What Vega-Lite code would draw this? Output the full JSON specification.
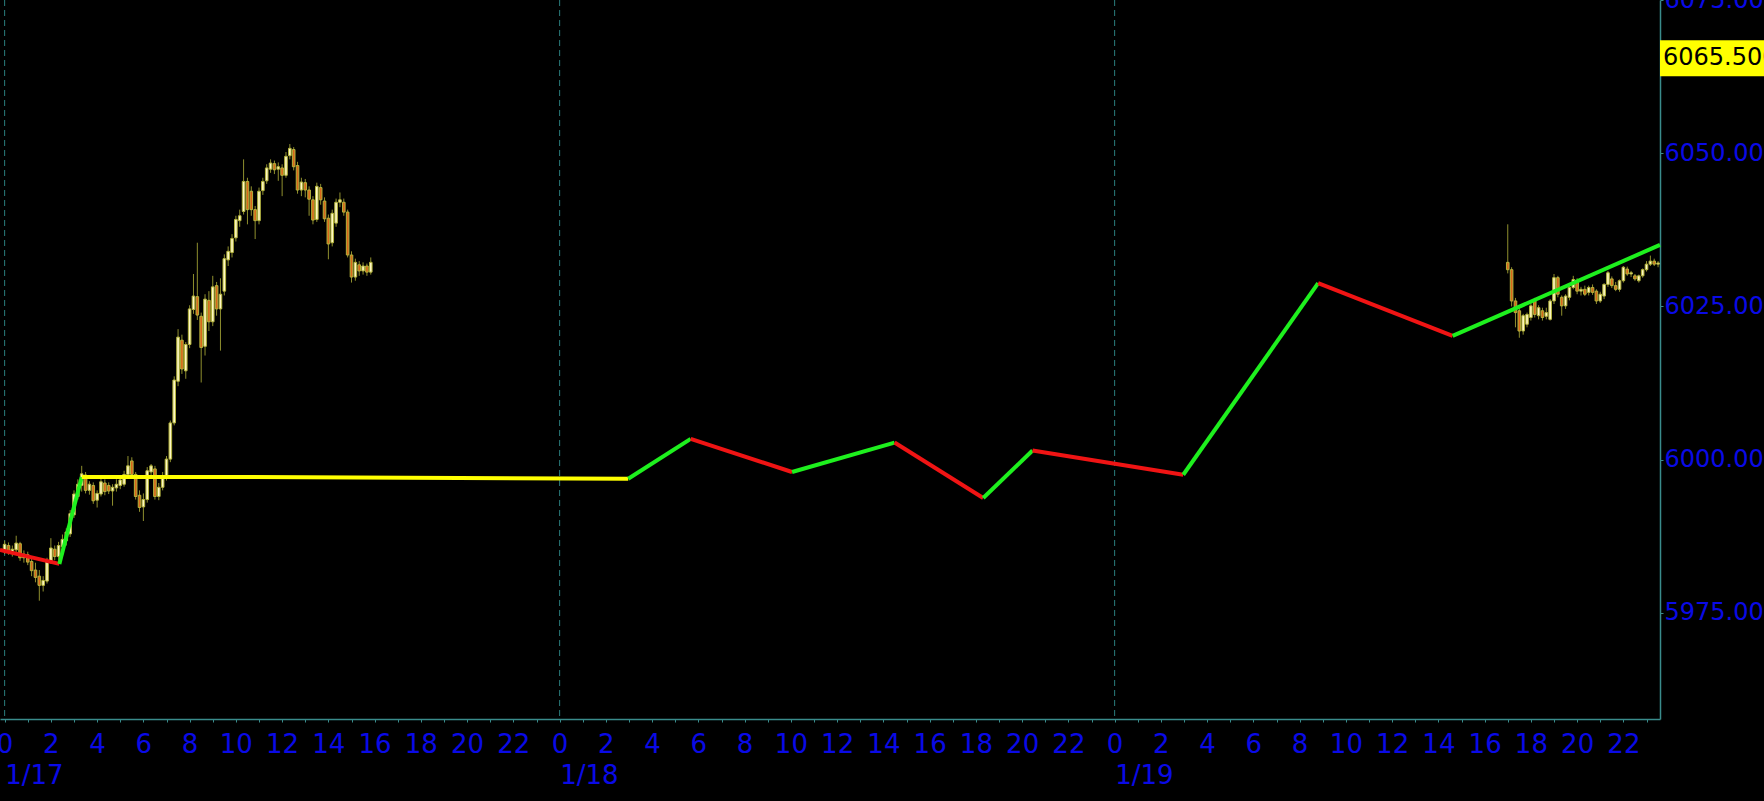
{
  "width": 1660,
  "height": 719,
  "autosize": {"type": "none"},
  "padding": {"left": 0, "top": 0, "right": 104, "bottom": 82},
  "background": "#000000",
  "config": {"view": {"stroke": null}},
  "datasets": {
    "candles": [
      {"t":"2025-01-17T00:00:00Z","o":5985.0,"h":5986.8,"l":5984.6,"c":5986.2},
      {"t":"2025-01-17T00:10:00Z","o":5986.0,"h":5986.5,"l":5984.5,"c":5985.0},
      {"t":"2025-01-17T00:20:00Z","o":5985.0,"h":5986.0,"l":5984.2,"c":5985.4},
      {"t":"2025-01-17T00:30:00Z","o":5985.3,"h":5987.6,"l":5984.9,"c":5986.4},
      {"t":"2025-01-17T00:40:00Z","o":5986.3,"h":5986.6,"l":5983.5,"c":5984.0},
      {"t":"2025-01-17T00:50:00Z","o":5984.0,"h":5985.2,"l":5983.2,"c":5984.6},
      {"t":"2025-01-17T01:00:00Z","o":5984.5,"h":5985.0,"l":5982.8,"c":5983.3},
      {"t":"2025-01-17T01:10:00Z","o":5983.4,"h":5984.0,"l":5981.0,"c":5981.9},
      {"t":"2025-01-17T01:20:00Z","o":5982.0,"h":5983.2,"l":5980.0,"c":5980.8},
      {"t":"2025-01-17T01:30:00Z","o":5981.0,"h":5982.0,"l":5977.0,"c":5979.5},
      {"t":"2025-01-17T01:40:00Z","o":5979.5,"h":5981.0,"l":5978.5,"c":5980.3},
      {"t":"2025-01-17T01:50:00Z","o":5980.2,"h":5984.0,"l":5979.8,"c":5983.5},
      {"t":"2025-01-17T02:00:00Z","o":5983.5,"h":5987.2,"l":5983.0,"c":5985.6},
      {"t":"2025-01-17T02:10:00Z","o":5985.4,"h":5986.0,"l":5983.6,"c":5984.2},
      {"t":"2025-01-17T02:20:00Z","o":5984.2,"h":5986.6,"l":5983.5,"c":5986.0},
      {"t":"2025-01-17T02:30:00Z","o":5985.8,"h":5987.8,"l":5985.0,"c":5987.0},
      {"t":"2025-01-17T02:40:00Z","o":5986.8,"h":5988.8,"l":5986.0,"c":5988.2},
      {"t":"2025-01-17T02:50:00Z","o":5987.9,"h":5991.8,"l":5987.4,"c":5991.2},
      {"t":"2025-01-17T03:00:00Z","o":5991.0,"h":5995.0,"l":5990.5,"c":5994.4},
      {"t":"2025-01-17T03:10:00Z","o":5994.0,"h":5996.8,"l":5993.5,"c":5996.0},
      {"t":"2025-01-17T03:20:00Z","o":5995.8,"h":5999.0,"l":5994.8,"c":5997.7},
      {"t":"2025-01-17T03:30:00Z","o":5997.5,"h":5998.0,"l":5994.5,"c":5995.0},
      {"t":"2025-01-17T03:40:00Z","o":5995.0,"h":5996.5,"l":5994.3,"c":5996.0},
      {"t":"2025-01-17T03:50:00Z","o":5995.8,"h":5996.3,"l":5992.8,"c":5993.3},
      {"t":"2025-01-17T04:00:00Z","o":5993.4,"h":5995.0,"l":5992.2,"c":5994.5},
      {"t":"2025-01-17T04:10:00Z","o":5994.4,"h":5997.0,"l":5994.0,"c":5996.4},
      {"t":"2025-01-17T04:20:00Z","o":5996.2,"h":5996.8,"l":5994.2,"c":5994.8},
      {"t":"2025-01-17T04:30:00Z","o":5995.8,"h":5996.3,"l":5994.4,"c":5994.9},
      {"t":"2025-01-17T04:40:00Z","o":5994.9,"h":5996.0,"l":5992.5,"c":5995.5},
      {"t":"2025-01-17T04:50:00Z","o":5995.4,"h":5996.8,"l":5994.8,"c":5996.0},
      {"t":"2025-01-17T05:00:00Z","o":5995.8,"h":5997.2,"l":5995.2,"c":5996.7},
      {"t":"2025-01-17T05:10:00Z","o":5996.0,"h":5998.2,"l":5995.6,"c":5997.6},
      {"t":"2025-01-17T05:20:00Z","o":5997.6,"h":6000.6,"l":5997.0,"c":5999.0},
      {"t":"2025-01-17T05:30:00Z","o":5999.8,"h":6000.4,"l":5997.0,"c":5997.6},
      {"t":"2025-01-17T05:40:00Z","o":5997.6,"h":5998.0,"l":5993.5,"c":5994.0},
      {"t":"2025-01-17T05:50:00Z","o":5994.2,"h":5995.0,"l":5991.5,"c":5992.2},
      {"t":"2025-01-17T06:00:00Z","o":5992.3,"h":5994.5,"l":5990.0,"c":5993.5},
      {"t":"2025-01-17T06:10:00Z","o":5993.5,"h":5998.8,"l":5993.0,"c":5998.2},
      {"t":"2025-01-17T06:20:00Z","o":5998.0,"h":5999.3,"l":5997.3,"c":5999.0},
      {"t":"2025-01-17T06:30:00Z","o":5998.5,"h":5999.0,"l":5993.5,"c":5994.0},
      {"t":"2025-01-17T06:40:00Z","o":5994.0,"h":5996.2,"l":5993.4,"c":5995.5},
      {"t":"2025-01-17T06:50:00Z","o":5995.5,"h":5998.0,"l":5995.0,"c":5997.0},
      {"t":"2025-01-17T07:00:00Z","o":5997.0,"h":6000.6,"l":5996.6,"c":6000.1},
      {"t":"2025-01-17T07:10:00Z","o":6000.1,"h":6006.4,"l":5999.6,"c":6006.0},
      {"t":"2025-01-17T07:20:00Z","o":6006.0,"h":6013.6,"l":6005.6,"c":6013.0},
      {"t":"2025-01-17T07:30:00Z","o":6012.8,"h":6021.3,"l":6012.0,"c":6020.0},
      {"t":"2025-01-17T07:40:00Z","o":6019.5,"h":6020.4,"l":6014.0,"c":6014.8},
      {"t":"2025-01-17T07:50:00Z","o":6014.5,"h":6019.2,"l":6013.2,"c":6018.8},
      {"t":"2025-01-17T08:00:00Z","o":6018.8,"h":6025.2,"l":6018.2,"c":6024.6},
      {"t":"2025-01-17T08:10:00Z","o":6024.5,"h":6030.3,"l":6023.8,"c":6026.7},
      {"t":"2025-01-17T08:20:00Z","o":6026.6,"h":6035.4,"l":6022.8,"c":6023.6},
      {"t":"2025-01-17T08:30:00Z","o":6023.4,"h":6024.0,"l":6012.6,"c":6018.3},
      {"t":"2025-01-17T08:40:00Z","o":6018.5,"h":6027.0,"l":6017.0,"c":6026.2},
      {"t":"2025-01-17T08:50:00Z","o":6026.0,"h":6027.5,"l":6021.0,"c":6022.5},
      {"t":"2025-01-17T09:00:00Z","o":6022.5,"h":6030.0,"l":6021.8,"c":6028.2},
      {"t":"2025-01-17T09:10:00Z","o":6028.4,"h":6029.0,"l":6023.5,"c":6024.6},
      {"t":"2025-01-17T09:20:00Z","o":6024.6,"h":6029.6,"l":6017.8,"c":6027.0},
      {"t":"2025-01-17T09:30:00Z","o":6027.5,"h":6033.5,"l":6026.8,"c":6032.8},
      {"t":"2025-01-17T09:40:00Z","o":6032.6,"h":6034.8,"l":6031.6,"c":6034.0},
      {"t":"2025-01-17T09:50:00Z","o":6033.8,"h":6036.8,"l":6033.0,"c":6036.1},
      {"t":"2025-01-17T10:00:00Z","o":6036.2,"h":6039.8,"l":6035.6,"c":6039.2},
      {"t":"2025-01-17T10:10:00Z","o":6039.0,"h":6040.8,"l":6038.0,"c":6039.8},
      {"t":"2025-01-17T10:20:00Z","o":6040.5,"h":6049.0,"l":6040.0,"c":6045.4},
      {"t":"2025-01-17T10:30:00Z","o":6045.4,"h":6046.0,"l":6038.4,"c":6040.8},
      {"t":"2025-01-17T10:40:00Z","o":6043.8,"h":6044.6,"l":6039.8,"c":6040.8},
      {"t":"2025-01-17T10:50:00Z","o":6040.8,"h":6041.4,"l":6036.0,"c":6039.0},
      {"t":"2025-01-17T11:00:00Z","o":6039.0,"h":6044.4,"l":6038.4,"c":6043.8},
      {"t":"2025-01-17T11:10:00Z","o":6043.9,"h":6046.0,"l":6043.2,"c":6045.4},
      {"t":"2025-01-17T11:20:00Z","o":6045.5,"h":6048.2,"l":6045.0,"c":6047.6},
      {"t":"2025-01-17T11:30:00Z","o":6047.4,"h":6049.0,"l":6046.8,"c":6048.4},
      {"t":"2025-01-17T11:40:00Z","o":6048.3,"h":6048.8,"l":6046.6,"c":6047.3},
      {"t":"2025-01-17T11:50:00Z","o":6047.4,"h":6048.5,"l":6045.5,"c":6047.8},
      {"t":"2025-01-17T12:00:00Z","o":6047.6,"h":6048.2,"l":6043.0,"c":6046.4},
      {"t":"2025-01-17T12:10:00Z","o":6046.4,"h":6050.2,"l":6046.0,"c":6049.5},
      {"t":"2025-01-17T12:20:00Z","o":6049.6,"h":6051.5,"l":6049.0,"c":6050.8},
      {"t":"2025-01-17T12:30:00Z","o":6050.6,"h":6051.0,"l":6047.2,"c":6047.8},
      {"t":"2025-01-17T12:40:00Z","o":6048.0,"h":6048.6,"l":6043.4,"c":6044.0},
      {"t":"2025-01-17T12:50:00Z","o":6044.0,"h":6046.0,"l":6043.0,"c":6045.3},
      {"t":"2025-01-17T13:00:00Z","o":6045.2,"h":6045.8,"l":6042.8,"c":6044.0},
      {"t":"2025-01-17T13:10:00Z","o":6044.0,"h":6044.6,"l":6039.8,"c":6042.5},
      {"t":"2025-01-17T13:20:00Z","o":6042.4,"h":6043.0,"l":6038.4,"c":6039.1},
      {"t":"2025-01-17T13:30:00Z","o":6039.2,"h":6045.2,"l":6038.8,"c":6044.6},
      {"t":"2025-01-17T13:40:00Z","o":6044.4,"h":6045.0,"l":6041.6,"c":6042.4},
      {"t":"2025-01-17T13:50:00Z","o":6042.2,"h":6042.8,"l":6038.8,"c":6039.3},
      {"t":"2025-01-17T14:00:00Z","o":6039.4,"h":6040.0,"l":6032.7,"c":6035.2},
      {"t":"2025-01-17T14:10:00Z","o":6035.4,"h":6040.8,"l":6034.8,"c":6040.2},
      {"t":"2025-01-17T14:20:00Z","o":6038.6,"h":6042.6,"l":6038.0,"c":6042.0},
      {"t":"2025-01-17T14:30:00Z","o":6042.0,"h":6043.6,"l":6041.2,"c":6042.4},
      {"t":"2025-01-17T14:40:00Z","o":6042.0,"h":6042.6,"l":6039.8,"c":6040.4},
      {"t":"2025-01-17T14:50:00Z","o":6040.4,"h":6040.8,"l":6033.0,"c":6033.4},
      {"t":"2025-01-17T15:00:00Z","o":6033.4,"h":6034.0,"l":6028.9,"c":6029.8},
      {"t":"2025-01-17T15:10:00Z","o":6029.8,"h":6032.8,"l":6029.2,"c":6032.2},
      {"t":"2025-01-17T15:20:00Z","o":6031.8,"h":6032.4,"l":6030.0,"c":6030.8},
      {"t":"2025-01-17T15:30:00Z","o":6030.8,"h":6032.2,"l":6030.2,"c":6031.6},
      {"t":"2025-01-17T15:40:00Z","o":6031.6,"h":6032.0,"l":6030.0,"c":6030.6},
      {"t":"2025-01-17T15:50:00Z","o":6030.6,"h":6033.0,"l":6030.2,"c":6032.2},
      {"t":"2025-01-19T17:00:00Z","o":6032.2,"h":6038.4,"l":6030.4,"c":6031.0},
      {"t":"2025-01-19T17:10:00Z","o":6031.0,"h":6031.4,"l":6025.0,"c":6025.9},
      {"t":"2025-01-19T17:20:00Z","o":6025.9,"h":6026.4,"l":6021.6,"c":6024.0},
      {"t":"2025-01-19T17:30:00Z","o":6024.3,"h":6024.8,"l":6019.9,"c":6021.0},
      {"t":"2025-01-19T17:40:00Z","o":6021.0,"h":6023.8,"l":6020.4,"c":6023.5},
      {"t":"2025-01-19T17:50:00Z","o":6022.1,"h":6024.0,"l":6021.6,"c":6023.7},
      {"t":"2025-01-19T18:00:00Z","o":6023.2,"h":6025.6,"l":6022.7,"c":6025.1},
      {"t":"2025-01-19T18:10:00Z","o":6025.9,"h":6026.4,"l":6023.2,"c":6023.7},
      {"t":"2025-01-19T18:20:00Z","o":6023.5,"h":6025.2,"l":6022.9,"c":6024.8},
      {"t":"2025-01-19T18:30:00Z","o":6024.3,"h":6024.8,"l":6022.7,"c":6023.2},
      {"t":"2025-01-19T18:40:00Z","o":6023.4,"h":6024.8,"l":6022.9,"c":6024.0},
      {"t":"2025-01-19T18:50:00Z","o":6022.9,"h":6026.2,"l":6022.7,"c":6025.9},
      {"t":"2025-01-19T19:00:00Z","o":6025.9,"h":6030.3,"l":6025.4,"c":6029.7},
      {"t":"2025-01-19T19:10:00Z","o":6029.7,"h":6030.0,"l":6026.5,"c":6027.0},
      {"t":"2025-01-19T19:20:00Z","o":6026.5,"h":6026.8,"l":6023.5,"c":6025.1},
      {"t":"2025-01-19T19:30:00Z","o":6025.1,"h":6027.0,"l":6024.6,"c":6026.7},
      {"t":"2025-01-19T19:40:00Z","o":6026.5,"h":6028.4,"l":6026.0,"c":6028.1},
      {"t":"2025-01-19T19:50:00Z","o":6028.1,"h":6030.0,"l":6027.8,"c":6029.4},
      {"t":"2025-01-19T20:00:00Z","o":6029.2,"h":6029.6,"l":6027.0,"c":6027.5},
      {"t":"2025-01-19T20:10:00Z","o":6027.5,"h":6028.2,"l":6026.8,"c":6027.8},
      {"t":"2025-01-19T20:20:00Z","o":6027.8,"h":6028.4,"l":6026.7,"c":6027.0},
      {"t":"2025-01-19T20:30:00Z","o":6027.3,"h":6028.4,"l":6026.8,"c":6028.1},
      {"t":"2025-01-19T20:40:00Z","o":6028.1,"h":6028.6,"l":6026.9,"c":6027.3},
      {"t":"2025-01-19T20:50:00Z","o":6027.5,"h":6027.8,"l":6025.4,"c":6025.9},
      {"t":"2025-01-19T21:00:00Z","o":6025.9,"h":6027.4,"l":6025.6,"c":6027.0},
      {"t":"2025-01-19T21:10:00Z","o":6026.7,"h":6028.8,"l":6026.2,"c":6028.6},
      {"t":"2025-01-19T21:20:00Z","o":6028.6,"h":6030.8,"l":6028.2,"c":6030.5},
      {"t":"2025-01-19T21:30:00Z","o":6029.5,"h":6029.9,"l":6028.0,"c":6028.4},
      {"t":"2025-01-19T21:40:00Z","o":6028.4,"h":6029.0,"l":6027.5,"c":6027.8},
      {"t":"2025-01-19T21:50:00Z","o":6027.8,"h":6029.4,"l":6027.4,"c":6029.2},
      {"t":"2025-01-19T22:00:00Z","o":6029.2,"h":6031.6,"l":6028.9,"c":6031.4},
      {"t":"2025-01-19T22:10:00Z","o":6031.1,"h":6031.5,"l":6030.0,"c":6030.3},
      {"t":"2025-01-19T22:20:00Z","o":6030.3,"h":6030.8,"l":6029.8,"c":6030.5},
      {"t":"2025-01-19T22:30:00Z","o":6030.0,"h":6030.3,"l":6029.2,"c":6029.5},
      {"t":"2025-01-19T22:40:00Z","o":6029.2,"h":6030.2,"l":6028.9,"c":6030.0},
      {"t":"2025-01-19T22:50:00Z","o":6030.0,"h":6031.2,"l":6029.7,"c":6031.0},
      {"t":"2025-01-19T23:00:00Z","o":6031.0,"h":6032.4,"l":6030.7,"c":6031.9},
      {"t":"2025-01-19T23:10:00Z","o":6031.9,"h":6033.3,"l":6031.6,"c":6032.4},
      {"t":"2025-01-19T23:20:00Z","o":6032.4,"h":6032.8,"l":6031.6,"c":6031.9},
      {"t":"2025-01-19T23:30:00Z","o":6031.9,"h":6032.4,"l":6031.4,"c":6032.1}
    ],
    "zigzag": [
      {"seg":1,"dir":"down","t":"2025-01-16T23:48:00Z","v":5985.3},
      {"seg":1,"dir":"down","t":"2025-01-17T02:22:00Z","v":5983.0},
      {"seg":2,"dir":"up","t":"2025-01-17T02:22:00Z","v":5983.0},
      {"seg":2,"dir":"up","t":"2025-01-17T03:20:00Z","v":5997.2},
      {"seg":3,"dir":"flat","t":"2025-01-17T03:20:00Z","v":5997.2},
      {"seg":3,"dir":"flat","t":"2025-01-17T08:57:00Z","v":5997.2},
      {"seg":3,"dir":"flat","t":"2025-01-18T02:58:00Z","v":5996.9},
      {"seg":4,"dir":"up","t":"2025-01-18T02:58:00Z","v":5996.9},
      {"seg":4,"dir":"up","t":"2025-01-18T05:40:00Z","v":6003.4},
      {"seg":5,"dir":"down","t":"2025-01-18T05:40:00Z","v":6003.4},
      {"seg":5,"dir":"down","t":"2025-01-18T10:03:00Z","v":5998.0},
      {"seg":6,"dir":"up","t":"2025-01-18T10:03:00Z","v":5998.0},
      {"seg":6,"dir":"up","t":"2025-01-18T14:29:00Z","v":6002.8},
      {"seg":7,"dir":"down","t":"2025-01-18T14:29:00Z","v":6002.8},
      {"seg":7,"dir":"down","t":"2025-01-18T18:19:00Z","v":5993.75},
      {"seg":8,"dir":"up","t":"2025-01-18T18:19:00Z","v":5993.75},
      {"seg":8,"dir":"up","t":"2025-01-18T20:27:00Z","v":6001.5},
      {"seg":9,"dir":"down","t":"2025-01-18T20:27:00Z","v":6001.5},
      {"seg":9,"dir":"down","t":"2025-01-19T02:58:00Z","v":5997.55},
      {"seg":10,"dir":"up","t":"2025-01-19T02:58:00Z","v":5997.55},
      {"seg":10,"dir":"up","t":"2025-01-19T08:48:00Z","v":6028.8},
      {"seg":11,"dir":"down","t":"2025-01-19T08:48:00Z","v":6028.8},
      {"seg":11,"dir":"down","t":"2025-01-19T14:37:00Z","v":6020.2},
      {"seg":12,"dir":"up","t":"2025-01-19T14:37:00Z","v":6020.2},
      {"seg":12,"dir":"up","t":"2025-01-19T23:35:00Z","v":6035.05}
    ],
    "days": [
      {"day":"2025-01-17T00:00:00Z"},
      {"day":"2025-01-18T00:00:00Z"},
      {"day":"2025-01-19T00:00:00Z"}
    ],
    "last": [{"price": 6065.5, "label": "6065.500", "from": "2025-01-19T23:35:00Z", "to": "2025-01-20T08:00:00Z"}]
  },
  "resolve": {"axis": {"x": "independent"}},
  "layer": [
    {
      "data": {"name": "days"},
      "mark": {"type": "rule", "color": "#2a7d7d", "strokeWidth": 1, "strokeDash": [6, 4]},
      "encoding": {
        "x": {
          "field": "day", "type": "temporal",
          "scale": {"type": "utc", "padding": 0, "nice": false, "domain": [
            {"year": 2025, "month": 1, "date": 16, "hours": 23, "minutes": 48, "utc": true},
            {"year": 2025, "month": 1, "date": 19, "hours": 23, "minutes": 35, "utc": true}
          ]},
          "axis": {
            "orient": "bottom", "title": null,
            "values": [
              {"year": 2025, "month": 1, "date": 17, "utc": true},
              {"year": 2025, "month": 1, "date": 18, "utc": true},
              {"year": 2025, "month": 1, "date": 19, "utc": true}
            ],
            "labelExpr": "utcFormat(datum.value, '%-m/%-d')",
            "labelAlign": "left", "labelFlush": false, "labelOverlap": false,
            "ticks": false, "tickSize": 0, "domain": false, "grid": false,
            "labelColor": "#0a0ae6", "labelFont": "DejaVu Sans", "labelFontSize": 26,
            "labelPadding": 43, "labelDx": 1
          }
        }
      }
    },
    {
      "data": {"name": "candles"},
      "mark": {"type": "rule", "color": "#8f8f2e", "strokeWidth": 1},
      "encoding": {
        "x": {
          "field": "t", "type": "temporal",
          "axis": {
            "orient": "bottom", "title": null,
            "tickCount": 72,
            "labelExpr": "utchours(datum.value) % 2 == 0 ? '' + utchours(datum.value) : ''",
            "labelFlush": false, "labelOverlap": false,
            "grid": false,
            "domainColor": "#3a8c8c", "domainWidth": 1.5,
            "tickColor": "#3a8c8c", "tickSize": 3,
            "labelColor": "#0a0ae6", "labelFont": "DejaVu Sans", "labelFontSize": 26,
            "labelPadding": 9
          }
        },
        "y": {
          "field": "l", "type": "quantitative",
          "scale": {"domain": [5957.7, 6075], "nice": false, "zero": false, "padding": 0},
          "axis": {
            "orient": "right", "title": null,
            "values": [5975, 6000, 6025, 6050, 6075],
            "format": ".3f",
            "grid": false,
            "domainColor": "#3a8c8c", "domainWidth": 1.5,
            "tickColor": "#3a8c8c", "tickSize": 3,
            "labelColor": "#0a0ae6", "labelFont": "DejaVu Sans", "labelFontSize": 24,
            "labelPadding": 1
          }
        },
        "y2": {"field": "h"}
      }
    },
    {
      "data": {"name": "candles"},
      "mark": {"type": "bar", "width": 2.6, "stroke": "#b4b43c", "strokeWidth": 1},
      "encoding": {
        "x": {"field": "t", "type": "temporal", "axis": null},
        "y": {"field": "o", "type": "quantitative"},
        "y2": {"field": "c"},
        "fill": {"condition": {"test": "datum.c >= datum.o", "value": "#fff8c4"}, "value": "#d9661c"}
      }
    },
    {
      "data": {"name": "zigzag"},
      "mark": {"type": "line", "strokeWidth": 4},
      "encoding": {
        "x": {"field": "t", "type": "temporal", "axis": null},
        "y": {"field": "v", "type": "quantitative"},
        "detail": {"field": "seg"},
        "color": {"field": "dir", "type": "nominal",
          "scale": {"domain": ["down", "up", "flat"], "range": ["#f01414", "#1ef01e", "#ffff00"]},
          "legend": null}
      }
    },
    {
      "data": {"name": "last"},
      "mark": {"type": "bar", "orient": "horizontal", "height": 36, "color": "#ffff00"},
      "encoding": {
        "x": {"field": "from", "type": "temporal", "axis": null},
        "x2": {"field": "to"},
        "y": {"field": "price", "type": "quantitative"}
      }
    },
    {
      "data": {"name": "last"},
      "mark": {"type": "text", "align": "left", "baseline": "middle", "dx": 3, "font": "DejaVu Sans", "fontSize": 24, "color": "#000000"},
      "encoding": {
        "x": {"field": "from", "type": "temporal", "axis": null},
        "y": {"field": "price", "type": "quantitative"},
        "text": {"field": "label"}
      }
    }
  ]
}
